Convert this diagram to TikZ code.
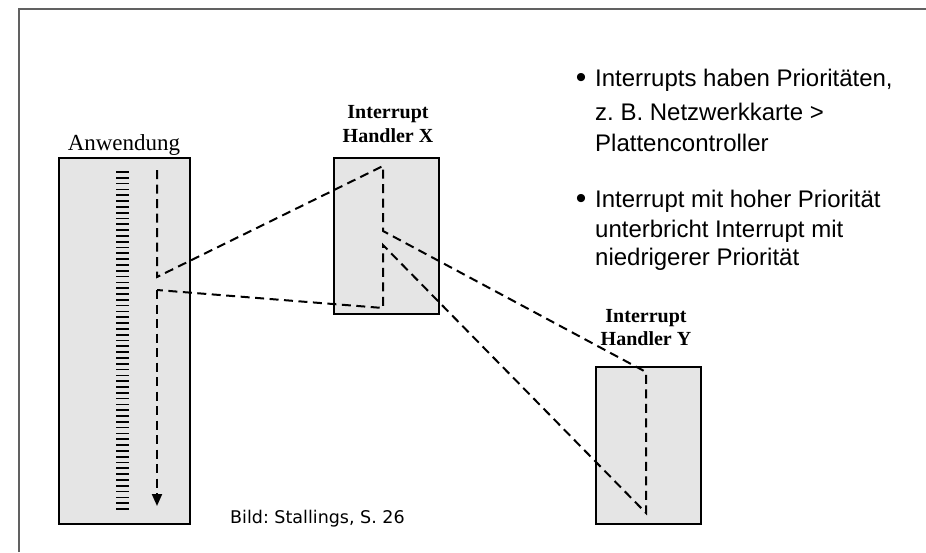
\documentclass[tikz,border=0pt]{standalone}
\usepackage{fontspec}
\setmainfont{Liberation Serif}
\newfontfamily\arialfont{Liberation Sans}
\newfontfamily\notefont{DejaVu Sans}
\usetikzlibrary{arrows.meta}
\frenchspacing

\tikzset{
  procbox/.style={draw=black, line width=1.8pt, fill=black!10, inner sep=0pt},
  flow/.style={line width=2pt, dash pattern=on 9pt off 5.5pt},
  boxlabel/.style={font=\fontsize{20}{24}\selectfont\bfseries, align=center, anchor=base},
  bulletline/.style={font=\arialfont\fontsize{24}{31}\selectfont, anchor=base west, inner sep=0pt},
  bulletmark/.style={font=\arialfont\fontsize{30}{31}\selectfont, anchor=base, inner sep=0pt},
}

\begin{document}
\begin{tikzpicture}[x=1pt, y=-1pt]
  \useasboundingbox (0,0) rectangle (926,552);

  % slide frame
  \draw[line width=1.5pt, draw=black!62] (19,552) -- (19,9) -- (926,9);

  % the three code blocks
  \node[procbox, minimum width=131pt, minimum height=366pt, anchor=north west] (app) at (58,157) {};
  \node[procbox, minimum width=105pt, minimum height=156pt, anchor=north west] (hx) at (333,157) {};
  \node[procbox, minimum width=105pt, minimum height=157pt, anchor=north west] (hy) at (595,366) {};

  % titles
  \node[font=\fontsize{23}{26}\selectfont, anchor=base] (apptitle) at (124,150) {Anwendung};
  \node[boxlabel] (hxt1) at (388,118) {Interrupt};
  \node[boxlabel] (hxt2) at (388,142) {Handler X};
  \node[boxlabel] (hyt1) at (646,322) {Interrupt};
  \node[boxlabel] (hyt2) at (646,345) {Handler Y};

  % instruction ticks of the application
  \foreach \i in {0,...,58}
    \draw[line width=1.7pt] (116,{172+\i*5.81}) -- (129,{172+\i*5.81});

  % control-flow points
  \coordinate (a0) at (157,170);
  \coordinate (a1) at (157,277);
  \coordinate (a2) at (157,290);
  \coordinate (a3) at (157,506);
  \coordinate (x0) at (383,166);
  \coordinate (x1) at (383,231);
  \coordinate (x2) at (383,245);
  \coordinate (x3) at (383,308);
  \coordinate (y0) at (646,372);
  \coordinate (y1) at (646,513);

  % execution flow
  \draw[flow] (a0) -- (a1) -- (x0) -- (x1) -- (y0) -- (y1) -- (x2) -- (x3) -- (a2);
  \draw[flow, -{Triangle[length=12pt, width=10pt]}] (a2) -- (a3);

  % bullet text
  \node[bulletmark] (b1) at (581,87) {•};
  \node[bulletline] (t1) at (595,86) {Interrupts haben Prioritäten,};
  \node[bulletline] (t2) at (595,120) {z. B. Netzwerkkarte >};
  \node[bulletline] (t3) at (595,151) {Plattencontroller};
  \node[bulletmark] (b2) at (581,208) {•};
  \node[bulletline] (t4) at (595,207) {Interrupt mit hoher Priorität};
  \node[bulletline] (t5) at (595,237) {unterbricht Interrupt mit};
  \node[bulletline] (t6) at (595,265) {niedrigerer Priorität};

  % source
  \node[font=\notefont\fontsize{17.5}{20}\selectfont, anchor=base west, inner sep=0pt] (src) at (230,523) {Bild: Stallings, S. 26};
\end{tikzpicture}
\end{document}
